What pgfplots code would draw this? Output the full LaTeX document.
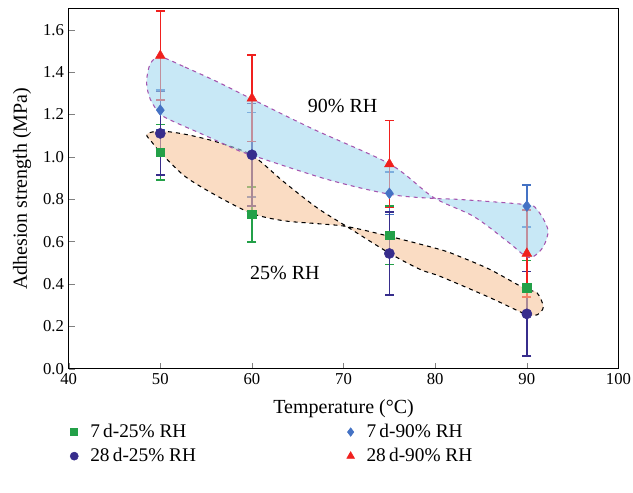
\documentclass[border=0pt]{standalone}
\usepackage{fontspec}
\setmainfont{Liberation Serif}
\usepackage{pgfplots}
\pgfplotsset{compat=1.18}

\definecolor{cgreen}{RGB}{35,160,72}
\definecolor{cnavy}{RGB}{55,45,140}
\definecolor{cblue}{RGB}{68,114,196}
\definecolor{cred}{RGB}{240,32,30}
\definecolor{fillblue}{RGB}{163,217,240}
\definecolor{fillorange}{RGB}{247,197,155}
\definecolor{edgepurple}{RGB}{165,85,175}

\begin{document}
\begin{tikzpicture}
\begin{axis}[
  at={(0,0)}, anchor=south west,
  scale only axis, width=412.3pt, height=270pt,
  xmin=40, xmax=100, ymin=0, ymax=1.7,
  xtick={40,50,...,100}, ytick={0,0.2,...,1.6},
  tick align=inside, xtick pos=bottom, ytick pos=left,
  major tick length=4.5pt,
  yticklabel style={/pgf/number format/.cd, fixed, fixed zerofill, precision=1},
  /pgf/number format/assume math mode=true,
  xlabel={Temperature (°C)}, ylabel={Adhesion strength (MPa)},
  tick label style={font=\fontsize{12.5}{14}\selectfont},
  label style={font=\fontsize{15}{17}\selectfont},
  xlabel style={yshift=-4pt},
  ylabel style={yshift=2pt},
  axis line style={line width=0.8pt},
  legend columns=2,
  legend cell align=left,
  legend image post style={scale=0.8},
  legend style={draw=none, fill=none, at={(-0.005,-0.139)}, anchor=north west,
    font=\fontsize{14.5}{16}\selectfont, row sep=2.5pt,
    /tikz/every odd column/.append style={column sep=7pt},
    /tikz/every even column/.append style={column sep=111pt}},
  error bars/y dir=both, error bars/y explicit,
]
% 7 d-25% RH
\addplot[only marks, mark=square*, mark size=3.3pt, color=cgreen,
  error bars/error bar style={line width=1.1pt, color=cgreen},
  error bars/error mark options={rotate=90, mark size=3.4pt, line width=1.1pt, color=cgreen}]
  coordinates {(50,1.022) +- (0,0.13) (60,0.729) +- (0,0.13) (75,0.630) +- (0,0.138) (90,0.382) +- (0,0.13)};
\addlegendentry{7\,d-25\% RH}
% 7 d-90% RH
\addplot[only marks, mark=diamond*, mark size=4pt, color=cblue,
  error bars/error bar style={line width=1.1pt, color=cblue},
  error bars/error mark options={rotate=90, mark size=3.4pt, line width=1.1pt, color=cblue}]
  coordinates {(50,1.221) +- (0,0.095) (60,1.010) +- (0,0.2) (75,0.828) +- (0,0.1) (90,0.768) +- (0,0.1)};
\addlegendentry{7\,d-90\% RH}
% 28 d-25% RH
\addplot[only marks, mark=*, mark size=3.8pt, color=cnavy,
  error bars/error bar style={line width=1.1pt, color=cnavy},
  error bars/error mark options={rotate=90, mark size=3.4pt, line width=1.1pt, color=cnavy}]
  coordinates {(50,1.111) +- (0,0.197) (60,1.010) +- (0,0.242) (75,0.544) +- (0,0.197) (90,0.259) +- (0,0.2)};
\addlegendentry{28\,d-25\% RH}
% 28 d-90% RH
\addplot[only marks, mark=triangle*, mark size=4.2pt, color=cred,
  error bars/error bar style={line width=1.1pt, color=cred},
  error bars/error mark options={rotate=90, mark size=3.4pt, line width=1.1pt, color=cred}]
  coordinates {(50,1.478) +- (0,0.21) (60,1.277) +- (0,0.205) (75,0.966) +- (0,0.205) (90,0.544) +- (0,0.205)};
\addlegendentry{28\,d-90\% RH}

% 25% RH region
\addplot[forget plot, smooth cycle, tension=0.5, no marks, draw=black, dashed, line width=0.8pt,
  fill=fillorange, fill opacity=0.6, draw opacity=1]
  coordinates {
  (48.52,1.107) (49.97,1.122) (52.7,1.107) (56.3,1.069) (60.0,1.008) (63.4,0.885)
  (67.1,0.76) (70.4,0.670) (75.1,0.543) (78.4,0.468) (80.6,0.435) (86.0,0.335)
  (89.8,0.259) (91.1,0.254) (91.8,0.292) (91.1,0.359) (89.8,0.378) (86.0,0.468)
  (82.7,0.529) (80.6,0.562) (75.1,0.624) (70.4,0.671) (67.1,0.685) (63.4,0.699)
  (60.0,0.733) (56.3,0.813) (52.7,0.908) (50.0,1.022) (49.1,1.069)};
% 90% RH region
\addplot[forget plot, smooth cycle, tension=0.5, no marks, draw=edgepurple, dashed, line width=0.8pt,
  fill=fillblue, fill opacity=0.6, draw opacity=1]
  coordinates {
  (50.0,1.472) (52.7,1.424) (56.3,1.353) (60.0,1.273) (66.7,1.131) (75.1,0.965)
  (79.8,0.809) (84.2,0.719) (87.9,0.600) (89.8,0.533) (90.7,0.529) (91.8,0.576)
  (92.3,0.657) (91.1,0.752) (89.8,0.775) (82.7,0.799) (79.8,0.804) (75.1,0.823)
  (68.2,0.894) (60.0,1.008) (58.2,1.036) (54.6,1.107) (51.6,1.164) (50.0,1.202)
  (48.9,1.273) (48.5,1.353) (48.9,1.439)};

\node[font=\fontsize{15}{17}\selectfont] at (axis cs:69.9,1.24) {90\% RH};
\node[font=\fontsize{15}{17}\selectfont] at (axis cs:63.6,0.453) {25\% RH};
\end{axis}
\pgfresetboundingbox
\path (-51.5pt,-92.5pt) rectangle (423.2pt,276.5pt);
\end{tikzpicture}
\end{document}
